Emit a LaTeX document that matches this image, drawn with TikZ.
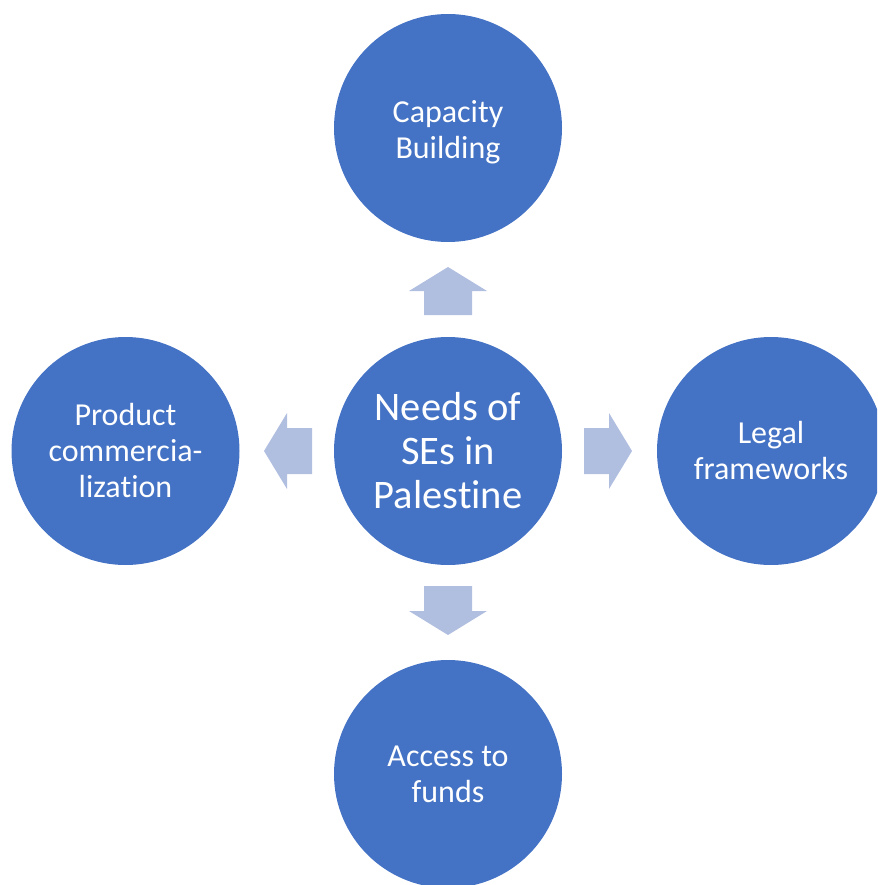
\documentclass[tikz,border=0pt]{standalone}
\usepackage{fontspec}
\setmainfont{Carlito}[Ligatures={NoCommon,NoContextual},RawFeature={-liga;-clig;-calt;-dlig}]
\definecolor{circblue}{HTML}{4472C4}
\definecolor{arrblue}{HTML}{B0BEE0}
\tikzset{
  bubble/.style={circle, fill=circblue, draw=none, minimum size=228pt, inner sep=0pt,
    text=white, align=center, font=\fontsize{32}{36}\selectfont},
  bigbubble/.style={bubble, font=\fontsize{40.5}{44}\selectfont},
  fatarrow/.style={fill=arrblue, draw=none}
}
\begin{document}
\begin{tikzpicture}[x=1pt,y=-1pt]
\useasboundingbox (0,0) rectangle (877,885);
\clip (0,0) rectangle (877,885);
\node[bigbubble] (c) at (448,451) {Needs of\\SEs in\\Palest\kern0pt ine};
\node[bubble] (t) at (448,128) {\rule{0pt}{30pt}Capacity\\Building};
\node[bubble] (l) at (125.5,451) {Product\\commercia-\\lizat\kern0pt ion};
\node[bubble] (r) at (771,451) {Legal\\frameworks};
\node[bubble] (b) at (448,774) {Access to\\funds};
% up arrow
\fill[fatarrow] (424,315) -- (424,291) -- (409,291) -- (448,267) -- (487,291) -- (472,291) -- (472,315) -- cycle;
% down arrow
\fill[fatarrow] (424,586) -- (424,611) -- (409,611) -- (448,635) -- (487,611) -- (472,611) -- (472,586) -- cycle;
% right arrow
\fill[fatarrow] (584,428) -- (609,428) -- (609,413) -- (632,451) -- (609,489) -- (609,474) -- (584,474) -- cycle;
% left arrow
\fill[fatarrow] (312,428) -- (287,428) -- (287,413) -- (264,451) -- (287,489) -- (287,474) -- (312,474) -- cycle;
\end{tikzpicture}
\end{document}
